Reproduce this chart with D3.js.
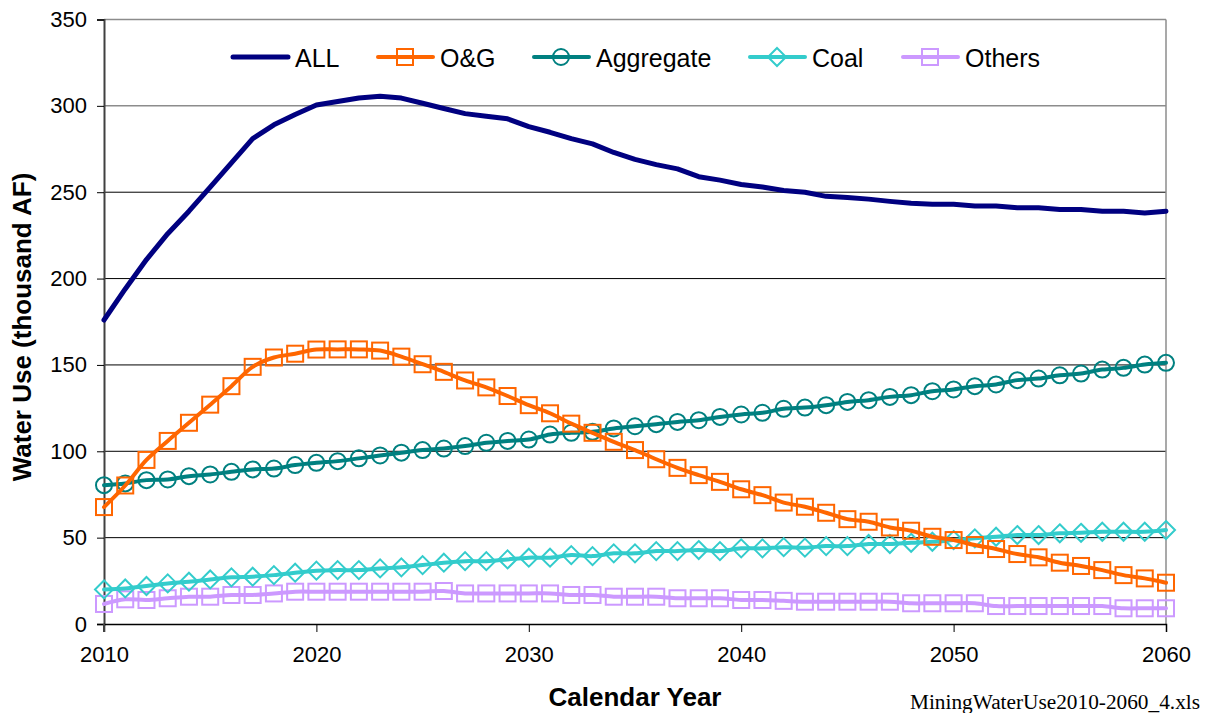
<!DOCTYPE html>
<html>
<head>
<meta charset="utf-8">
<script src="https://cdn.jsdelivr.net/npm/d3@7"></script>
<style>
  body { margin: 0; background: #fff; }
  svg { display: block; }
  text { font-family: Arial, "Liberation Sans", sans-serif; }
</style>
</head>
<body>
<svg id="chart" width="1206" height="713"></svg>
<script>
const years = d3.range(2010, 2061);
const yTicks = [0, 50, 100, 150, 200, 250, 300, 350];
const xTicks = [2010, 2020, 2030, 2040, 2050, 2060];

const allValues = [176, 194, 211, 226, 239, 253, 267, 281, 289, 295,
  300.5, 302.5, 304.5, 305.5, 304.5, 301.5, 298.5, 295.5, 294, 292.5,
  288, 284.7, 281, 278, 273, 269, 266, 263.5, 259, 257,
  254.5, 253, 251, 250, 247.6, 247, 246, 244.7, 243.6, 243,
  243, 242, 242, 241, 241, 240, 240, 239, 239, 238, 239];

const ogValues = [67.7, 80.2, 95, 106, 116.5, 127, 137.7, 148.9, 154.3, 156.5,
  158.9, 159, 159, 158.3, 154.8, 150.4, 146, 141, 137, 132,
  126.7, 122, 116, 110.7, 105.5, 100.7, 95.4, 90.4, 86.2, 82.3,
  78, 74.6, 70.3, 67.9, 64.4, 60.7, 59.2, 55.9, 54, 50.5,
  48.6, 45.7, 43.4, 40.5, 38.6, 35.5, 33.6, 31.2, 28.3, 26.4, 23.9];

const aggregateValues = [80.4, 81.4, 83.3, 83.7, 85.6, 86.6, 88.1, 89.5, 90, 92,
  93.3, 94.3, 95.9, 97.6, 99.2, 100.7, 101.6, 103, 104.9, 106,
  106.8, 109.7, 110.7, 111.3, 113.2, 114.5, 115.7, 117, 118, 119.9,
  121.3, 122.3, 124.6, 125.3, 126.7, 128.6, 129.6, 131.5, 132.5, 134.8,
  135.8, 137.7, 138.7, 141.2, 142.1, 144, 145, 147.3, 148.3, 150.2, 151.2];

const coalValues = [20, 20.6, 22, 23.5, 24.5, 25.8, 27, 27.4, 28.3, 29.7,
  30.9, 31.2, 31.2, 32.2, 32.8, 34.1, 35.5, 36.4, 36.4, 37.4,
  38.4, 38.4, 39.9, 39.3, 40.9, 40.9, 42.2, 42.2, 42.8, 42.2,
  43.8, 43.8, 44.5, 44.2, 45.1, 45.1, 46.3, 46.3, 47, 47.6,
  48.6, 49.6, 50.5, 51.5, 51.5, 52.5, 52.8, 53.4, 53.4, 53.4, 54.4];

const othersValues = [11.6, 14.3, 13.9, 14.9, 15.8, 15.8, 16.8, 16.8, 17.7, 18.7,
  18.7, 18.7, 18.7, 18.7, 18.7, 18.7, 19.1, 17.7, 17.7, 17.7,
  17.7, 17.7, 16.8, 16.8, 15.8, 15.8, 15.8, 14.9, 14.9, 14.9,
  13.9, 13.9, 13.4, 12.9, 12.9, 12.9, 12.9, 12.9, 12, 12,
  12, 12, 10.4, 10.4, 10.4, 10.4, 10.4, 10.4, 9.1, 9.1, 9.1];

const seriesNames = ["ALL", "O&G", "Aggregate", "Coal", "Others"];

const series = [
  { name: seriesNames[0], values: allValues, color: "#000080", width: 5, marker: null, smooth: false },
  { name: seriesNames[1], values: ogValues, color: "#FF6600", width: 4, marker: "square", smooth: true },
  { name: seriesNames[2], values: aggregateValues, color: "#008080", width: 4, marker: "circle", smooth: true },
  { name: seriesNames[3], values: coalValues, color: "#33CCCC", width: 4, marker: "diamond", smooth: true },
  { name: seriesNames[4], values: othersValues, color: "#CC99FF", width: 4, marker: "square", smooth: true }
];

const svg = d3.select("#chart");
const x = d3.scaleLinear().domain([2010, 2060]).range([104, 1166]);
const y = d3.scaleLinear().domain([0, 350]).range([624, 19.5]);

// gridlines
svg.append("g").selectAll("line").data(yTicks.filter(t => t > 0))
  .join("line")
  .attr("x1", x(2010)).attr("x2", x(2060))
  .attr("y1", d => y(d)).attr("y2", d => y(d))
  .attr("stroke", d => d >= 300 ? "#8c8c8c" : "#000")
  .attr("stroke-width", d => d >= 300 ? 1.5 : 1);

// right border
svg.append("line")
  .attr("x1", x(2060)).attr("x2", x(2060))
  .attr("y1", y(350)).attr("y2", y(0))
  .attr("stroke", "#8c8c8c").attr("stroke-width", 1.5);

// y axis
const yAxis = svg.append("g")
  .attr("transform", `translate(${x(2010)},0)`)
  .call(d3.axisLeft(y).tickValues(yTicks).tickSize(7).tickPadding(10));
yAxis.select(".domain").attr("stroke", "#404040").attr("stroke-width", 2);
yAxis.selectAll(".tick line").attr("stroke", "#000");
yAxis.selectAll("text").attr("font-size", 22).attr("fill", "#000")
  .style("font-family", "Arial, 'Liberation Sans', sans-serif");

// x axis
const xAxis = svg.append("g")
  .attr("transform", `translate(0,${y(0)})`)
  .call(d3.axisBottom(x).tickValues(xTicks).tickFormat(d3.format("d")).tickSize(8).tickPadding(14));
xAxis.select(".domain").attr("stroke", "#000").attr("stroke-width", 1.5);
xAxis.selectAll(".tick line").attr("stroke", "#000");
xAxis.selectAll("text").attr("font-size", 22).attr("fill", "#000")
  .style("font-family", "Arial, 'Liberation Sans', sans-serif");
svg.append("line").attr("x1", x(2010)).attr("x2", x(2010))
  .attr("y1", y(0)).attr("y2", y(0) + 8).attr("stroke", "#404040").attr("stroke-width", 2);

// lines
const lineLinear = d3.line().x((d, i) => x(years[i])).y(d => y(d));
const lineSmooth = d3.line().x((d, i) => x(years[i])).y(d => y(d)).curve(d3.curveCatmullRom.alpha(0.5));

function drawMarker(g, type, cx, cy, color) {
  if (type === "square") {
    g.append("rect").attr("x", cx - 8).attr("y", cy - 8).attr("width", 16).attr("height", 16)
      .attr("fill", "none").attr("stroke", color).attr("stroke-width", 2);
  } else if (type === "circle") {
    g.append("circle").attr("cx", cx).attr("cy", cy).attr("r", 8)
      .attr("fill", "none").attr("stroke", color).attr("stroke-width", 2);
  } else if (type === "diamond") {
    g.append("path").attr("d", `M${cx},${cy - 9}L${cx + 9},${cy}L${cx},${cy + 9}L${cx - 9},${cy}Z`)
      .attr("fill", "none").attr("stroke", color).attr("stroke-width", 2);
  }
}

const drawOrder = [4, 3, 2, 1, 0];
drawOrder.forEach(k => {
  const s = series[k];
  const g = svg.append("g");
  g.append("path").datum(s.values)
    .attr("d", s.smooth ? lineSmooth : lineLinear)
    .attr("fill", "none").attr("stroke", s.color)
    .attr("stroke-width", s.width).attr("stroke-linejoin", "round").attr("stroke-linecap", "round");
  if (s.marker) {
    s.values.forEach((v, i) => drawMarker(g, s.marker, x(years[i]), y(v), s.color));
  }
});

// legend
const legendX = [233, 378, 534, 750, 903];
const legendY = 57;
series.forEach((s, i) => {
  const g = svg.append("g");
  g.append("line").attr("x1", legendX[i]).attr("x2", legendX[i] + 55)
    .attr("y1", legendY).attr("y2", legendY)
    .attr("stroke", s.color).attr("stroke-width", s.width).attr("stroke-linecap", "round");
  if (s.marker) drawMarker(g, s.marker, legendX[i] + 27, legendY, s.color);
  g.append("text").attr("x", legendX[i] + 62).attr("y", legendY + 9.5)
    .attr("font-size", 25).attr("fill", "#000").text(s.name);
});

// axis titles
svg.append("text").attr("x", x(2035)).attr("y", 706)
  .attr("text-anchor", "middle").attr("font-size", 26).attr("font-weight", "bold")
  .text("Calendar Year");
svg.append("text").attr("transform", "translate(31,327) rotate(-90)")
  .attr("text-anchor", "middle").attr("font-size", 26).attr("font-weight", "bold")
  .text("Water Use (thousand AF)");

// footnote
svg.append("text").attr("x", 910).attr("y", 709)
  .style("font-family", "'Liberation Serif', 'Times New Roman', serif")
  .attr("font-size", 20).attr("fill", "#000")
  .attr("textLength", 290).attr("lengthAdjust", "spacingAndGlyphs")
  .text("MiningWaterUse2010-2060_4.xls");
</script>
</body>
</html>
